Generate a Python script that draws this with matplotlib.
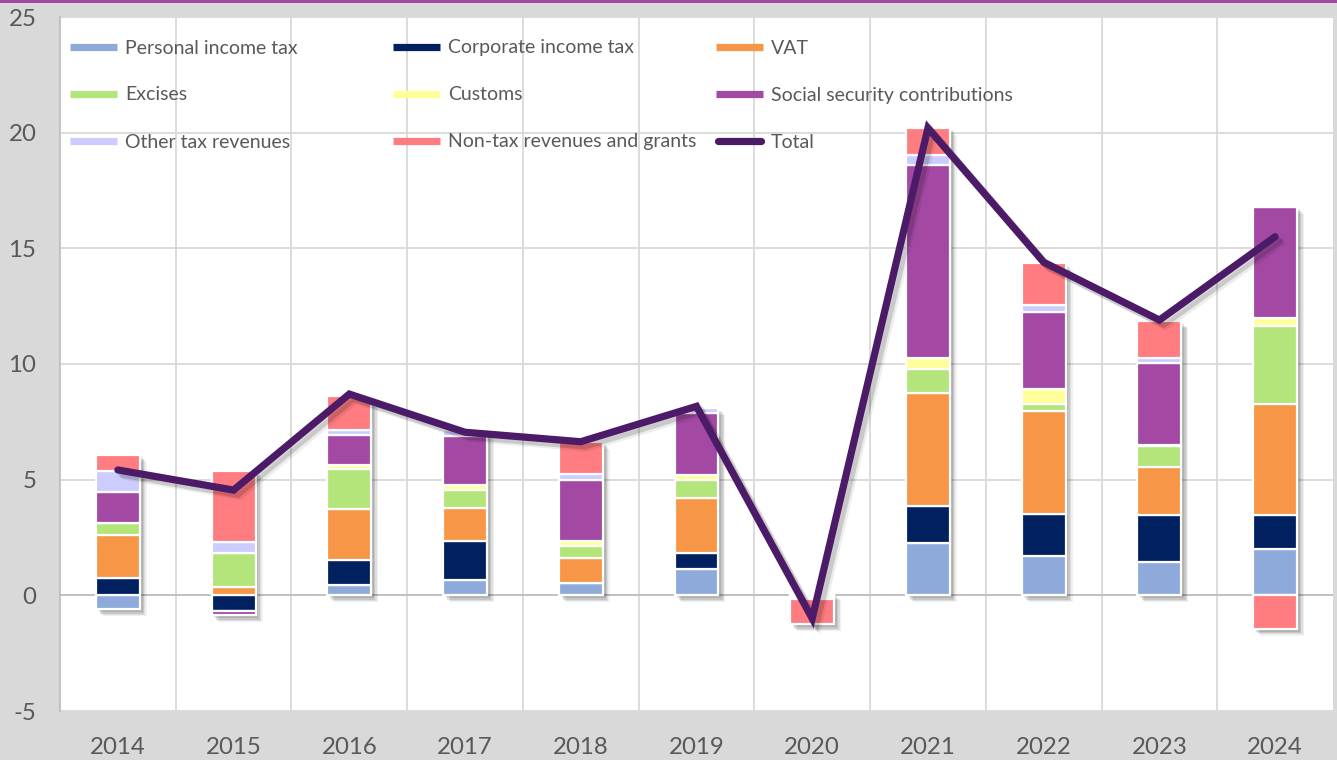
import numpy as np
import matplotlib
matplotlib.use("Agg")
import matplotlib.pyplot as plt
from matplotlib.lines import Line2D
from matplotlib.patches import Rectangle
import matplotlib.patheffects as pe

plt.rcParams['font.family'] = ['Lato', 'DejaVu Sans']

years = ['2014', '2015', '2016', '2017', '2018', '2019', '2020', '2021', '2022', '2023', '2024']
pit     = [-0.61, 0.00, 0.46, 0.66, 0.55, 1.12, -0.08, 2.26, 1.69, 1.44, 2.00]
cit     = [0.74, -0.66, 1.05, 1.70, 0.00, 0.69, -0.08, 1.62, 1.83, 2.03, 1.47]
vat     = [1.87, 0.36, 2.21, 1.40, 1.07, 2.40, 0.00, 4.88, 4.45, 2.06, 4.78]
excises = [0.52, 1.46, 1.72, 0.78, 0.53, 0.79, 0.00, 1.03, 0.29, 0.94, 3.41]
customs = [0.00, 0.00, 0.20, 0.21, 0.22, 0.22, 0.08, 0.48, 0.64, 0.05, 0.34]
ssc     = [1.35, -0.21, 1.27, 2.13, 2.61, 2.66, 0.00, 8.33, 3.33, 3.52, 4.80]
other   = [0.91, 0.50, 0.22, 0.25, 0.26, 0.21, 0.00, 0.42, 0.30, 0.23, 0.00]
nontax  = [0.69, 3.07, 1.47, 0.00, 1.40, 0.00, -1.10, 1.20, 1.83, 1.57, -1.45]
total   = [5.42, 4.55, 8.70, 7.05, 6.64, 8.17, -1.00, 20.20, 14.40, 11.90, 15.50]

series_names = ['Personal income tax', 'Corporate income tax', 'VAT', 'Excises', 'Customs',
                'Social security contributions', 'Other tax revenues', 'Non-tax revenues and grants']
series_vals = [pit, cit, vat, excises, customs, ssc, other, nontax]
series_colors = ['#8eaadb', '#002060', '#f79646', '#b3e57b', '#ffff99', '#a349a4', '#ccccff', '#ff7c80']
total_color = '#4b1b68'

W, H = 1337, 760
fig = plt.figure(figsize=(W / 100, H / 100), dpi=100, facecolor='#d9d9d9')
ax = fig.add_axes([60 / W, (H - 711) / H, (1333 - 60) / W, (711 - 17) / H])
ax.set_facecolor('white')

x = np.arange(len(years))
bw = 0.38

# stacking (positives up, negatives down)
pos_base = np.zeros(len(years))
neg_base = np.zeros(len(years))
data = np.array(series_vals)
pos_sum = np.where(data > 0, data, 0).sum(axis=0)
neg_sum = np.where(data < 0, data, 0).sum(axis=0)

# soft shadow behind each stacked column
for off, a in [((5, -5), 0.06), ((4, -4), 0.08), ((3, -3), 0.10), ((2, -2), 0.10)]:
    ax.bar(x, pos_sum - neg_sum, bottom=neg_sum, width=bw, color='black', linewidth=0,
           zorder=1.5, path_effects=[pe.SimplePatchShadow(offset=off, shadow_rgbFace='black', alpha=a)],
           alpha=0)

for name, vals, col in zip(series_names, series_vals, series_colors):
    v = np.array(vals)
    bottoms = np.where(v >= 0, pos_base, neg_base)
    ax.bar(x, v, bottom=bottoms, width=bw, color=col, edgecolor='white', linewidth=1.6,
           zorder=2, label=name)
    pos_base = pos_base + np.where(v > 0, v, 0)
    neg_base = neg_base + np.where(v < 0, v, 0)

ax.plot(x, total, color=total_color, linewidth=5.2, solid_capstyle='round', solid_joinstyle='miter',
        zorder=3, label='Total',
        path_effects=[pe.SimpleLineShadow(offset=(3, -3), shadow_color='black', alpha=0.15),
                      pe.SimpleLineShadow(offset=(4.5, -4.5), shadow_color='black', alpha=0.07),
                      pe.Normal()])

ax.set_xlim(-0.5, len(years) - 0.5)
ax.set_ylim(-5, 25)
ax.set_yticks(np.arange(-5, 26, 5))
ax.set_yticklabels([str(v) for v in range(-5, 26, 5)])
ax.set_xticks(x)
ax.set_xticklabels(years)
ax.set_xticks(np.arange(0.5, len(years) - 0.5, 1), minor=True)
ax.tick_params(axis='both', which='both', length=0, colors='#595959', labelsize=17.3)
ax.tick_params(axis='x', pad=19)
ax.tick_params(axis='y', pad=17)
ax.grid(True, axis='y', which='major', color='#d9d9d9', linewidth=1.3, zorder=0)
ax.grid(True, axis='x', which='minor', color='#d9d9d9', linewidth=1.3, zorder=0)
ax.grid(False, axis='x', which='major')
ax.set_axisbelow(True)
ax.axhline(0, color='#bfbfbf', linewidth=1.3, zorder=1)
for s in ['top', 'right', 'bottom']:
    ax.spines[s].set_visible(False)
ax.spines['left'].set_color('#bfbfbf')
ax.spines['left'].set_linewidth(1.3)

# purple band at top of figure
fig.add_artist(Rectangle((0, 1 - 2.5 / H), 1, 2.5 / H, transform=fig.transFigure,
                         color='#a349a4', lw=0))

# legend (row-wise, 3 columns)
leg_names = series_names + ['Total']
leg_colors = series_colors + [total_color]
col_x = [70, 393, 716]
row_y = [47, 94, 141]
for i, (nm, c) in enumerate(zip(leg_names, leg_colors)):
    r, cc = divmod(i, 3)
    x0 = col_x[cc]
    y0 = row_y[r]
    if nm == 'Total':
        ln = Line2D([(x0 + 2) / W, (x0 + 45) / W], [1 - y0 / H] * 2, transform=fig.transFigure,
                    color=c, lw=5.2, solid_capstyle='round')
    else:
        ln = Line2D([x0 / W, (x0 + 47) / W], [1 - y0 / H] * 2, transform=fig.transFigure,
                    color=c, lw=5.2, solid_capstyle='butt')
    fig.add_artist(ln)
    fig.text((x0 + 55) / W, 1 - (y0 + 1) / H, nm, color='#595959', fontsize=14, va='center', ha='left')

fig.savefig('out.png', dpi=100, facecolor=fig.get_facecolor())
